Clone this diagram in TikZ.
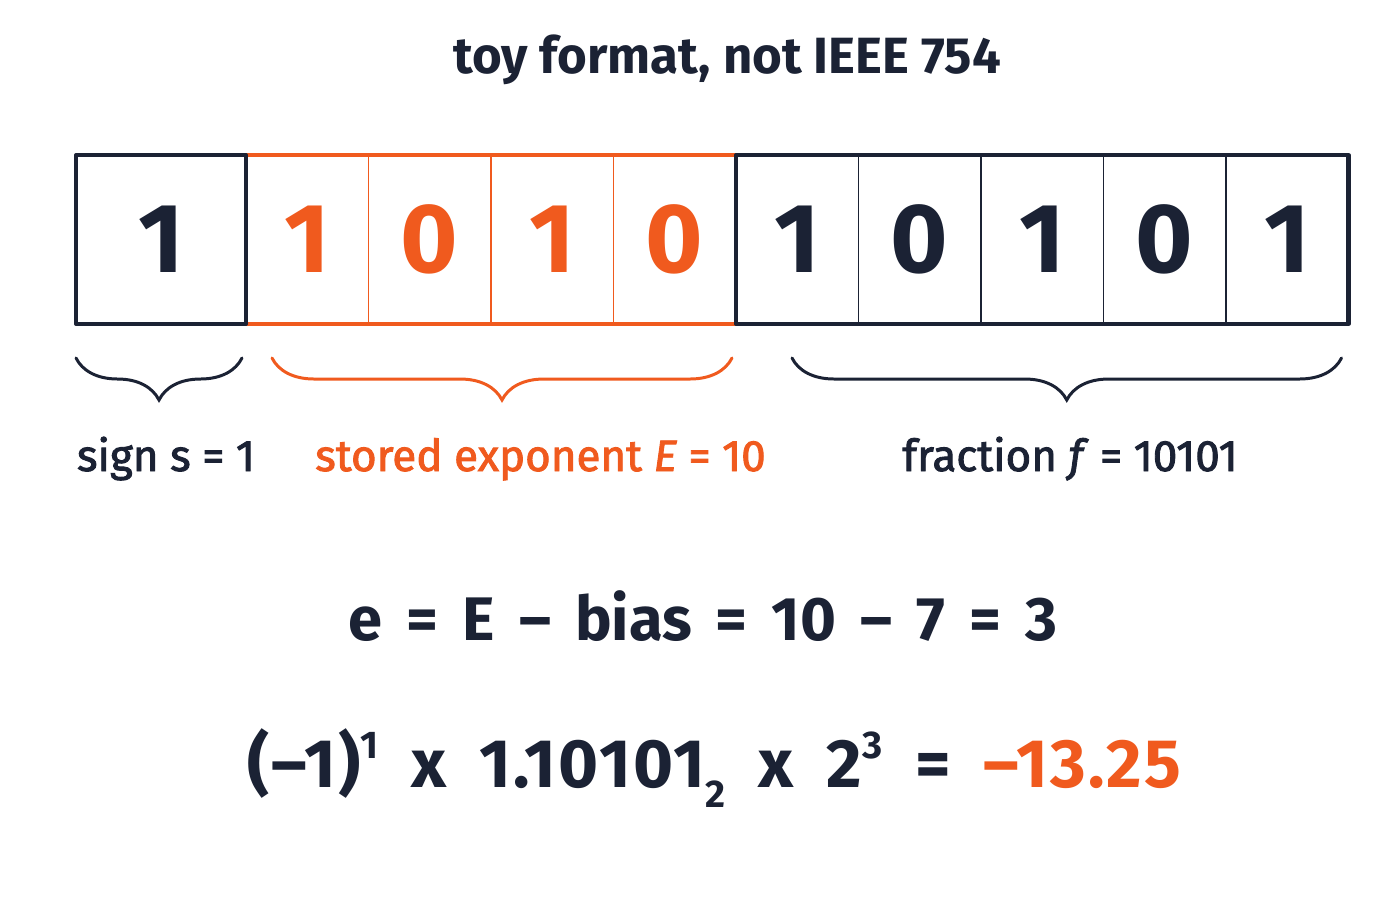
\documentclass[tikz,border=0pt]{standalone}
\usepackage{fontspec}
\setmainfont{Fira Sans}
\newfontfamily\medfont[FakeBold=2]{Fira Sans}
\newfontfamily\eqfont[WordSpace=1.65]{Fira Sans}
\newfontfamily\valfont[WordSpace=1.8, LetterSpace=3]{Fira Sans}
\usepackage{xcolor}
\usetikzlibrary{positioning,decorations.pathreplacing}
\definecolor{ink}{RGB}{27,34,52}
\definecolor{hot}{RGB}{240,90,30}
\tikzstyle{cell} = [rectangle, draw=ink, line width=1.1pt, minimum width=2.45cm, minimum height=3.38cm, inner sep=0pt, outer sep=0pt, text=ink, font=\fontsize{56}{60}\selectfont\bfseries]
\tikzstyle{signcell} = [cell, minimum width=3.4cm]
\tikzstyle{expcell} = [cell, draw=hot, text=hot]
\tikzstyle{groupbox} = [draw=ink, line width=2.3pt, line join=round]
\tikzstyle{bracemark} = [decorate, decoration={brace, mirror, amplitude=0.84cm}, line width=1.7pt, line cap=round]
\tikzstyle{fieldlbl} = [anchor=base, inner sep=0pt, font=\medfont\fontsize{25}{28}\selectfont]
\tikzstyle{formula} = [anchor=base, inner sep=0pt, text=ink, font=\eqfont\fontsize{35}{40}\selectfont\bfseries]
\newcommand{\upidx}[1]{\raisebox{0.42em}{\fontsize{22}{24}\selectfont #1}}
\newcommand{\lowidx}[1]{\raisebox{-0.3em}{\fontsize{22}{24}\selectfont #1}}
\begin{document}
\begin{tikzpicture}[node distance=0pt]
    \useasboundingbox[fill=white] (0,0) rectangle (28,-18);

    % Title
    \node [anchor=base, text=ink, font=\fontsize{29}{33}\selectfont\bfseries] (title) at (14.54,-1.46) {toy format, not IEEE 754};

    % Bit cells
    \node [signcell, anchor=north west] (sign) at (1.52,-3.10) {1};
    \node [expcell, right=of sign] (e1) {1};
    \node [expcell, right=of e1] (e2) {0};
    \node [expcell, right=of e2] (e3) {1};
    \node [expcell, right=of e3] (e4) {0};
    \node [cell, right=of e4] (f1) {1};
    \node [cell, right=of f1] (f2) {0};
    \node [cell, right=of f2] (f3) {1};
    \node [cell, right=of f3] (f4) {0};
    \node [cell, right=of f4] (f5) {1};

    % Field frames
    \draw [groupbox, draw=hot] (e1.north west) rectangle (e4.south east);
    \draw [groupbox] (sign.north west) rectangle (sign.south east);
    \draw [groupbox] (f1.north west) rectangle (f5.south east);

    % Braces
    \coordinate (sb1) at ([yshift=-0.68cm]sign.south west);
    \coordinate (sb2) at ([xshift=-0.08cm, yshift=-0.68cm]sign.south east);
    \coordinate (eb1) at ([xshift=0.52cm, yshift=-0.68cm]e1.south west);
    \coordinate (eb2) at ([xshift=-0.08cm, yshift=-0.68cm]e4.south east);
    \coordinate (fb1) at ([xshift=1.12cm, yshift=-0.68cm]f1.south west);
    \coordinate (fb2) at ([xshift=-0.14cm, yshift=-0.68cm]f5.south east);
    \draw [bracemark, draw=ink] (sb1) -- (sb2);
    \draw [bracemark, draw=hot] (eb1) -- (eb2);
    \draw [bracemark, draw=ink] (fb1) -- (fb2);

    % Field labels
    \node [fieldlbl, text=ink] (signlbl) at (3.32,-9.42) {sign s = 1};
    \node [fieldlbl, text=hot] (explbl) at (10.81,-9.42) {stored exponent \textit{E} = 10};
    \node [fieldlbl, text=ink] (fraclbl) at (21.40,-9.42) {fraction \textit{f} = 10101};

    % Formulas
    \node [formula] (bias) at (14.06,-12.80) {e = E – bias = 10 – 7 = 3};
    \node [formula, font=\valfont\fontsize{39}{44}\selectfont\bfseries] (value) at (14.28,-15.74) {(–1)\upidx{1} x 1.10101\lowidx{2} x 2\upidx{3} = \textcolor{hot}{–13.25}};
\end{tikzpicture}
\end{document}
